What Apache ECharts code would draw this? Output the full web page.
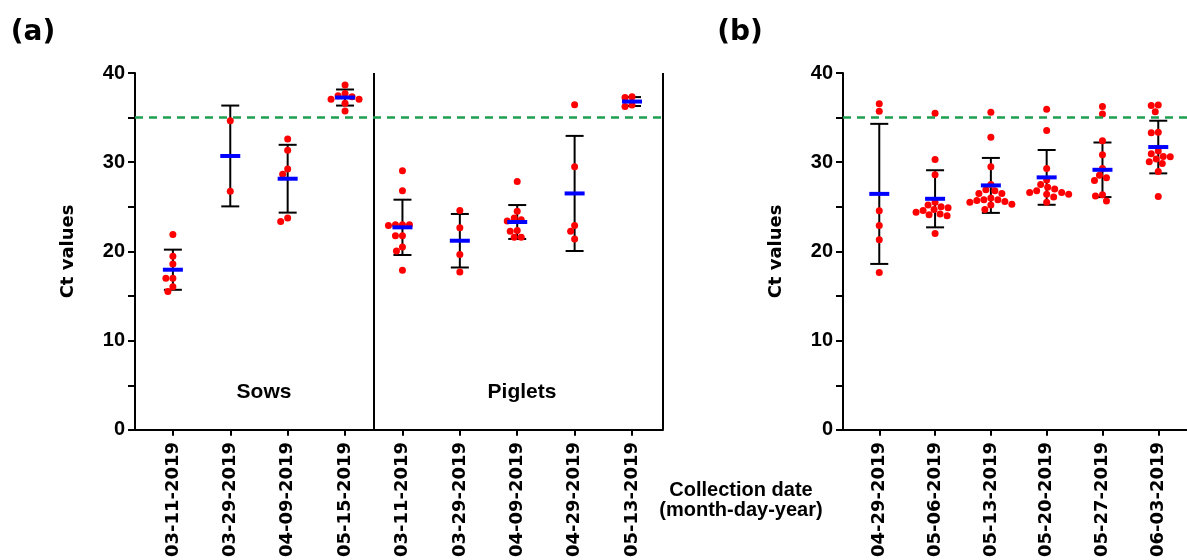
<!DOCTYPE html>
<html>
<head>
    <meta charset="utf-8">
    <script src="https://cdn.jsdelivr.net/npm/echarts@6/dist/echarts.min.js"></script>
</head>
<body style="margin:0;background:#fff;">
    <div id="container" style="width:1187px;height:560px;"></div>
    <script type="text/javascript">
        // panel (a): sows + piglets
        var catsA = ['03-11-2019', '03-29-2019', '04-09-2019', '05-15-2019',
            '03-11-2019', '03-29-2019', '04-09-2019', '04-29-2019', '05-13-2019'];
        var meanA = [17.95, 30.7, 28.15, 37.25, 22.7, 21.2, 23.3, 26.5, 36.8];
        var sdA = [2.25, 5.65, 3.8, 0.9, 3.1, 3.0, 1.9, 6.45, 0.5];
        var ptsA = [
            [21.9, 19.45, 18.6, 17.0, 17.0, 16.05, 15.5],
            [34.65, 26.75],
            [32.6, 31.35, 29.25, 28.65, 23.75, 23.35],
            [38.65, 37.7, 37.45, 37.35, 37.05, 37.05, 36.6, 35.75],
            [29.05, 26.8, 23.0, 23.0, 23.0, 22.9, 21.75, 21.75, 20.5, 20.05, 17.9],
            [24.6, 22.65, 19.65, 17.7],
            [27.85, 24.5, 23.75, 23.55, 23.4, 22.35, 22.25, 21.6, 21.6],
            [36.45, 29.5, 22.9, 22.25, 21.4],
            [37.35, 37.25, 36.4, 36.25]
        ];

        // panel (b)
        var catsB = ['04-29-2019', '05-06-2019', '05-13-2019', '05-20-2019', '05-27-2019', '06-03-2019'];
        var meanB = [26.45, 25.9, 27.4, 28.3, 29.15, 31.7];
        var sdB = [7.85, 3.2, 3.08, 3.07, 3.06, 2.95];
        var ptsB = [
            [36.55, 35.7, 24.55, 22.9, 21.3, 17.65],
            [35.5, 30.3, 28.6, 25.5, 25.2, 25.0, 24.9, 24.7, 24.6, 24.4, 24.2, 24.1, 24.0, 22.0],
            [35.6, 32.8, 29.5, 27.5, 26.9, 26.8, 26.5, 26.5, 26.0, 25.8, 25.8, 25.7, 25.6, 25.5, 25.3, 25.2, 24.7],
            [35.95, 33.55, 29.3, 28.0, 27.5, 27.2, 27.0, 26.8, 26.6, 26.6, 26.4, 26.4, 26.1, 25.5],
            [36.25, 35.4, 32.4, 30.85, 29.3, 28.55, 28.25, 27.95, 26.35, 26.2, 25.65],
            [36.4, 36.35, 35.65, 33.35, 33.3, 31.25, 30.95, 30.65, 30.6, 30.35, 30.05, 29.85, 28.95, 26.15]
        ];

        var cutoff = 35;
        var yMax = 40;

        var gridH = 357;
        var xRangeA = [0.34, 9.54], widthA = 528;
        var xRangeB = [0.35, 6.515], widthB = 344;

        var dom = document.getElementById("container");
        var myChart = echarts.init(dom);

        // simple beeswarm: dots that would overlap are pushed sideways
        function swarm(groups, pxX, pxY) {
            var out = [];
            var D = 7;
            groups.forEach(function (vals, gi) {
                var placed = [];
                vals.slice().sort(function (a, b) { return b - a; }).forEach(function (v) {
                    for (var k = 0; k < 80; k++) {
                        var off = (k % 2 === 0 ? 1 : -1) * Math.ceil(k / 2);
                        var ok = placed.every(function (p) {
                            var dx = off - p[0], dy = (v - p[1]) * pxY;
                            return dx * dx + dy * dy >= D * D;
                        });
                        if (ok) { placed.push([off, v]); break; }
                    }
                });
                placed.forEach(function (p) {
                    out.push([gi + 1 + p[0] / pxX, p[1]]);
                });
            });
            return out;
        }

        function errItem(params, api) {
            var x = api.value(0), m = api.value(1), s = api.value(2);
            var t = api.coord([x, m + s]), b = api.coord([x, m - s]);
            var st = { stroke: '#000', lineWidth: 2 };
            return {
                type: 'group', children: [
                    { type: 'line', shape: { x1: t[0], y1: t[1], x2: b[0], y2: b[1] }, style: st },
                    { type: 'line', shape: { x1: t[0] - 9, y1: t[1], x2: t[0] + 9, y2: t[1] }, style: st },
                    { type: 'line', shape: { x1: b[0] - 9, y1: b[1], x2: b[0] + 9, y2: b[1] }, style: st }
                ]
            };
        }
        function meanItem(params, api) {
            var c = api.coord([api.value(0), api.value(1)]);
            return {
                type: 'line', shape: { x1: c[0] - 10, y1: c[1], x2: c[0] + 10, y2: c[1] },
                style: { stroke: '#0000ff', lineWidth: 4 }
            };
        }

        function mkX(i, range, cats) {
            var vals = cats.map(function (c, k) { return k + 1; });
            return {
                type: 'value', gridIndex: i, min: range[0], max: range[1],
                splitLine: { show: false },
                axisLine: { show: true, onZero: false, lineStyle: { color: '#000', width: 2 } },
                axisTick: { show: true, customValues: vals, length: 6, lineStyle: { color: '#000', width: 2 } },
                axisLabel: {
                    customValues: vals, rotate: 90, margin: 12,
                    formatter: function (v) { return cats[Math.round(v) - 1]; },
                    fontFamily: 'DejaVu Sans', fontWeight: 'bold', fontSize: 18, color: '#000'
                }
            };
        }
        function mkY(i) {
            return {
                type: 'value', gridIndex: i, min: 0, max: yMax, interval: 5,
                name: 'Ct values', nameLocation: 'middle', nameGap: 58,
                nameTextStyle: { fontFamily: 'DejaVu Sans', fontWeight: 'bold', fontSize: 18, color: '#000' },
                splitLine: { show: false },
                axisLine: { show: true, lineStyle: { color: '#000', width: 2 } },
                axisTick: { show: true, length: 7, lineStyle: { color: '#000', width: 2 } },
                axisLabel: {
                    margin: 10,
                    formatter: function (v) { return v % 10 === 0 ? v : ''; },
                    fontFamily: 'Liberation Sans', fontWeight: 'bold', fontSize: 20, color: '#000'
                }
            };
        }

        function cutLine() {
            return {
                silent: true, symbol: 'none', label: { show: false },
                lineStyle: { color: '#1e9e50', width: 2.5, type: [8, 6] },
                data: [{ yAxis: cutoff }]
            };
        }

        function statData(means, sds) {
            return means.map(function (m, k) { return [k + 1, m, sds[k]]; });
        }

        function txt(s, size, family, extra) {
            return Object.assign({
                text: s, fontSize: size, fontFamily: family, fontWeight: 'bold', fill: '#000'
            }, extra || {});
        }

        var pxY = gridH / yMax;
        var dotsA = swarm(ptsA, widthA / (xRangeA[1] - xRangeA[0]), pxY);
        var dotsB = swarm(ptsB, widthB / (xRangeB[1] - xRangeB[0]), pxY);

        var dotStyle = { color: '#ff0000', opacity: 1 };
        var mid = { align: 'center', verticalAlign: 'middle' };
        var option = {
            animation: false,
            grid: [
                { left: 135, top: 73, width: widthA, height: gridH },
                { left: 843, top: 73, width: widthB, height: gridH }
            ],
            xAxis: [mkX(0, xRangeA, catsA), mkX(1, xRangeB, catsB)],
            yAxis: [mkY(0), mkY(1)],
            series: [
                {
                    type: 'custom', xAxisIndex: 0, yAxisIndex: 0, z: 1,
                    renderItem: errItem, data: statData(meanA, sdA),
                    markLine: {
                        silent: true, symbol: 'none', label: { show: false },
                        lineStyle: { color: '#000', width: 2, type: 'solid' },
                        data: [{ xAxis: 4.5 }, { xAxis: xRangeA[1] }]
                    }
                },
                {
                    type: 'scatter', xAxisIndex: 0, yAxisIndex: 0, z: 2,
                    symbolSize: 7, itemStyle: dotStyle,
                    data: dotsA, markLine: cutLine()
                },
                {
                    type: 'custom', xAxisIndex: 0, yAxisIndex: 0, z: 3,
                    renderItem: meanItem, data: statData(meanA, sdA)
                },
                {
                    type: 'custom', xAxisIndex: 1, yAxisIndex: 1, z: 1,
                    renderItem: errItem, data: statData(meanB, sdB)
                },
                {
                    type: 'scatter', xAxisIndex: 1, yAxisIndex: 1, z: 2,
                    symbolSize: 7, itemStyle: dotStyle,
                    data: dotsB, markLine: cutLine()
                },
                {
                    type: 'custom', xAxisIndex: 1, yAxisIndex: 1, z: 3,
                    renderItem: meanItem, data: statData(meanB, sdB)
                }
            ],
            graphic: [
                { type: 'text', x: 33, y: 33, style: txt('(a)', 28, 'DejaVu Sans', mid) },
                { type: 'text', x: 740, y: 33, style: txt('(b)', 28, 'DejaVu Sans', mid) },
                { type: 'text', x: 264, y: 392, style: txt('Sows', 21, 'Liberation Sans', mid) },
                { type: 'text', x: 522, y: 392, style: txt('Piglets', 21, 'Liberation Sans', mid) },
                { type: 'text', x: 741, y: 500, style: txt('Collection date\n(month-day-year)', 20, 'Liberation Sans', { align: 'center', verticalAlign: 'middle', lineHeight: 20 }) }
            ]
        };
        myChart.setOption(option);
    </script>
</body>
</html>
